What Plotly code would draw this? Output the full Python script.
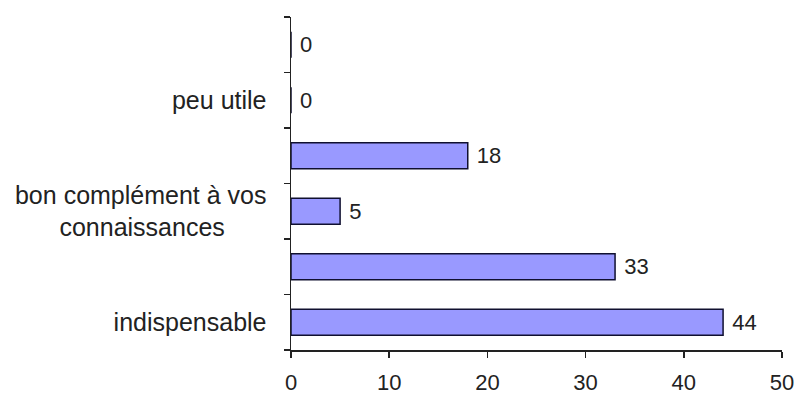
import plotly.graph_objects as go

# Categories bottom -> top (every other category label is blank in the original)
categories = [
    "indispensable",
    " ",
    "bon complément à vos<br>connaissances\u00a0\u00a0\u00a0\u00a0\u00a0\u00a0",
    "  ",
    "peu utile",
    "   ",
]
values = [44, 33, 5, 18, 0, 0]
x_ticks = [0, 10, 20, 30, 40, 50]

FONT = "Liberation Sans, Arial, sans-serif"

fig = go.Figure(
    go.Bar(
        x=values,
        y=categories,
        orientation="h",
        marker=dict(color="#9999FF", line=dict(color="#101030", width=1.5)),
        texttemplate=" %{x}",
        textposition="outside",
        textfont=dict(family=FONT, size=22, color="#222222"),
        cliponaxis=False,
        width=0.47,
    )
)

fig.update_layout(
    width=795,
    height=400,
    margin=dict(l=291, r=13, t=17, b=50, autoexpand=False),
    paper_bgcolor="white",
    plot_bgcolor="white",
    showlegend=False,
    font=dict(family=FONT, size=22, color="#222222"),
)

fig.update_xaxes(
    range=[0, 50],
    tickmode="array",
    tickvals=x_ticks,
    ticktext=[str(t) for t in x_ticks],
    showgrid=False,
    zeroline=False,
    showline=True,
    linecolor="#222222",
    linewidth=1.5,
    ticks="outside",
    ticklen=6,
    tickwidth=1.5,
    tickcolor="#222222",
    ticklabelstandoff=6,
    tickfont=dict(family=FONT, size=22, color="#222222"),
    automargin=False,
    fixedrange=True,
)

fig.update_yaxes(
    type="category",
    categoryorder="array",
    categoryarray=categories,
    tickson="boundaries",
    showgrid=False,
    zeroline=False,
    showline=True,
    linecolor="#222222",
    linewidth=1.5,
    ticks="outside",
    ticklen=6,
    tickwidth=1.5,
    tickcolor="#222222",
    ticklabelstandoff=18,
    tickfont=dict(family=FONT, size=25, color="#222222"),
    automargin=False,
    fixedrange=True,
)

# remove the default 8px page margin so the 795x400 figure fills the window exactly
fig.write_html(
    "out.html",
    config={"displayModeBar": False, "staticPlot": True},
    post_script="document.body.style.margin='0';document.body.style.overflow='hidden';",
)
